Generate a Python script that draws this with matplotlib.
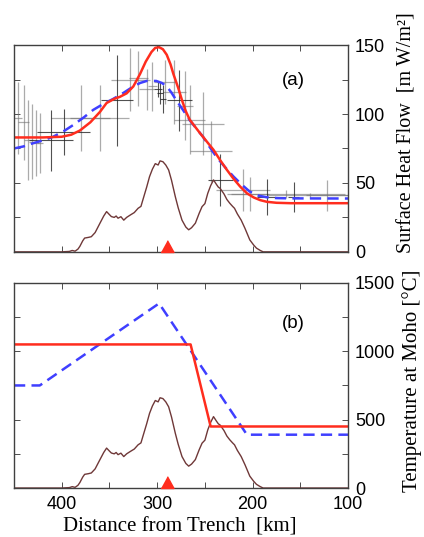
import numpy as np
import matplotlib
matplotlib.use("Agg")
import matplotlib.pyplot as plt

# ---- data ----
# (a) surface heat flow model curves, km from trench / mW m^-2
red_a_km = [450, 420, 400, 390, 381, 370, 360, 353, 345, 339, 332, 325, 318, 312, 306,
            302, 298, 294, 290, 286, 283, 278, 274, 270, 266, 260, 255, 248, 241, 234,
            227, 220, 213, 206, 199, 192, 185, 175, 160, 100]
red_a_hf = [83, 83, 83.5, 85, 88, 94, 101.5, 108, 111, 112.5, 115, 120, 129, 138, 145,
            148, 148.5, 147, 143, 136, 129, 119, 110, 102, 96, 90.5, 86, 80, 74, 66.5,
            59.5, 53, 47.3, 42.5, 39.5, 37.5, 36.3, 35.6, 35.3, 35.3]

blue_a_km = [450, 440, 430, 420, 409, 398, 388, 377, 367, 356, 346, 335, 325, 318, 311,
             301, 295, 290, 285, 280, 273, 266, 259, 252, 245, 238, 229, 220, 211, 203,
             194, 185, 175, 160, 100]
blue_a_hf = [75, 76.5, 78.8, 80.8, 83.5, 87.5, 92, 97.5, 103, 107.5, 111, 115.5, 120, 122.5, 124,
             124, 122.5, 120, 115.5, 110, 103, 95.6, 89.5, 83.5, 76, 69, 61.5, 54.6, 48.5, 43.7,
             40.8, 39.6, 39, 38.8, 38.7]

# heat flow observations: position, value, half-width, error
obs_gray_km = [446, 440, 435, 431, 427, 423, 380, 360, 328, 320, 311, 305, 292, 282, 271,
               266, 252, 244, 210, 203, 165, 140, 122]
obs_gray_hf = [97, 94, 81, 80, 79, 79, 97, 97, 125, 126, 118, 120, 123, 116, 106,
               96, 93, 73, 45, 42, 42, 41, 41]
obs_gray_xerr = [4, 6, 5, 3, 3, 3, 31, 31, 20, 10, 8, 5, 11, 12, 8,
                 16, 22, 22, 28, 20, 62, 45, 22]
obs_gray_yerr = [26, 27, 29, 27, 24, 22, 24, 24, 23, 20, 15, 18, 16, 23, 25,
                 25, 23, 22, 15, 12, 3, 2, 11]

obs_dark_km = [411, 398, 342, 299, 297, 294, 277, 234, 185, 157]
obs_dark_hf = [81, 87, 110, 118, 115, 111, 110, 52, 40, 40]
obs_dark_xerr = [23, 28, 17, 4, 3, 3, 13, 13, 10, 6]
obs_dark_yerr = [22, 17, 33, 6, 8, 10, 22, 19, 13, 11]

# topography profile (arbitrary units, scaled per panel)
topo_km = [450, 400, 392, 389, 386, 383, 381, 378, 376, 372, 369, 365, 360, 356, 353,
           350, 348, 345, 343, 341, 338, 335, 332, 328, 324, 320, 317, 315, 311, 308,
           305, 302, 299, 297, 294, 291, 288, 285, 281, 278, 274, 270, 267, 264, 260,
           256, 253, 250, 247, 244, 241, 238, 236, 234, 230, 227, 224, 221, 219, 216,
           212, 208, 203, 199, 196, 192, 189, 100]
topo_h = [0, 0, 0.3, 1, 0.5, 2, 4, 8, 10, 10.5, 11, 14, 20.7, 26, 29.2,
          27, 25.6, 25, 26, 24.4, 25.5, 23, 25, 26.8, 28.5, 31.6, 33, 37.7, 47, 54.6,
          60, 64, 63, 66, 65.4, 63, 59.4, 52, 40, 32, 23, 18, 16, 17.5, 20.8,
          28, 32.8, 35, 42.5, 48, 52.2, 49, 47, 46, 42, 38, 35.3, 33, 31.6, 27.5,
          23, 17, 8.7, 5, 2.7, 1, 0, 0]
topo_scale_a = 1
topo_scale_b = 10

volcano_km = 290

# (b) Moho temperature, deg C
red_b_km = [450, 265, 244, 100]
red_b_T = [1050, 1050, 450, 450]
blue_b_km = [450, 423, 298, 206, 100]
blue_b_T = [750, 750, 1350, 390, 390]

# ---- drawing ----
RED = "#ff2d1e"
BLUE = "#3f3fff"
BROWN = "#6f3838"
SANS = "Liberation Sans"
SERIF = "Liberation Serif"

plt.rcParams["font.family"] = SANS

fig = plt.figure(figsize=(4.24, 5.37), dpi=100)
ax_a = fig.add_axes([0.033, 0.531, 0.788, 0.385])
ax_b = fig.add_axes([0.033, 0.0912, 0.788, 0.382])

tri = [(-1.1, 0), (1.1, 0), (0, 2)]


def style_axes(ax, yticks, yminor):
    ax.set_xlim(450, 100)
    ax.set_xticks([400, 300, 200, 100])
    ax.set_xticks(np.arange(100, 451, 50), minor=True)
    ax.set_yticks(yticks)
    ax.set_yticks(yminor, minor=True)
    ax.yaxis.tick_right()
    ax.yaxis.set_label_position("right")
    ax.tick_params(which="both", direction="in", top=True, bottom=True,
                   left=True, right=True, labelleft=False, labelright=True,
                   color="0.3", width=0.7)
    ax.tick_params(which="major", length=4, labelsize=13, pad=5)
    ax.tick_params(which="minor", length=4)
    for s in ax.spines.values():
        s.set_color("0.25")
        s.set_linewidth(1.0)


# panel (a)
ax = ax_a
ax.errorbar(obs_gray_km, obs_gray_hf, xerr=obs_gray_xerr, yerr=obs_gray_yerr,
            fmt="none", ecolor="0.45", elinewidth=0.9, alpha=0.6, capsize=0)
ax.errorbar(obs_dark_km, obs_dark_hf, xerr=obs_dark_xerr, yerr=obs_dark_yerr,
            fmt="none", ecolor="0.15", elinewidth=0.8, alpha=0.8, capsize=0)
ax.plot(topo_km, np.array(topo_h) * topo_scale_a, color=BROWN, lw=1.0)
ax.plot(blue_a_km, blue_a_hf, color=BLUE, lw=1.8, ls=(0, (4.5, 2.5)))
ax.plot(red_a_km, red_a_hf, color=RED, lw=1.8)
ax.plot([volcano_km], [0], marker=tri, ms=17, color=RED, clip_on=False, zorder=5)
ax.set_ylim(0, 150)
style_axes(ax, [0, 50, 100, 150], np.arange(0, 151, 25))
ax.tick_params(labelbottom=False)
ax.text(0.835, 0.83, "(a)", transform=ax.transAxes, ha="center", va="center",
        fontsize=13.5)
ax.set_ylabel("Surface Heat Flow  [m W/m²]", family=SERIF, fontsize=14.5,
              va="center", rotation=90)
ax.yaxis.set_label_coords(1.175, 0.575)

# panel (b)
ax = ax_b
ax.plot(topo_km, np.array(topo_h) * topo_scale_b, color=BROWN, lw=1.0)
ax.plot(blue_b_km, blue_b_T, color=BLUE, lw=1.8, ls=(0, (4.5, 2.5)))
ax.plot(red_b_km, red_b_T, color=RED, lw=1.8)
ax.plot([volcano_km], [0], marker=tri, ms=17, color=RED, clip_on=False, zorder=5)
ax.set_ylim(0, 1500)
style_axes(ax, [0, 500, 1000, 1500], np.arange(0, 1501, 250))
ax.tick_params(axis="x", labelsize=13, pad=6)
ax.text(0.835, 0.80, "(b)", transform=ax.transAxes, ha="center", va="center",
        fontsize=13.5)
ax.set_ylabel("Temperature at Moho [°C]", family=SERIF, fontsize=15,
              va="center", rotation=90)
ax.yaxis.set_label_coords(1.19, 0.525)
ax.set_xlabel("Distance from Trench  [km]", family=SERIF, fontsize=15, va="center")
ax.xaxis.set_label_coords(0.497, -0.19)

fig.savefig("out.png", dpi=100)
